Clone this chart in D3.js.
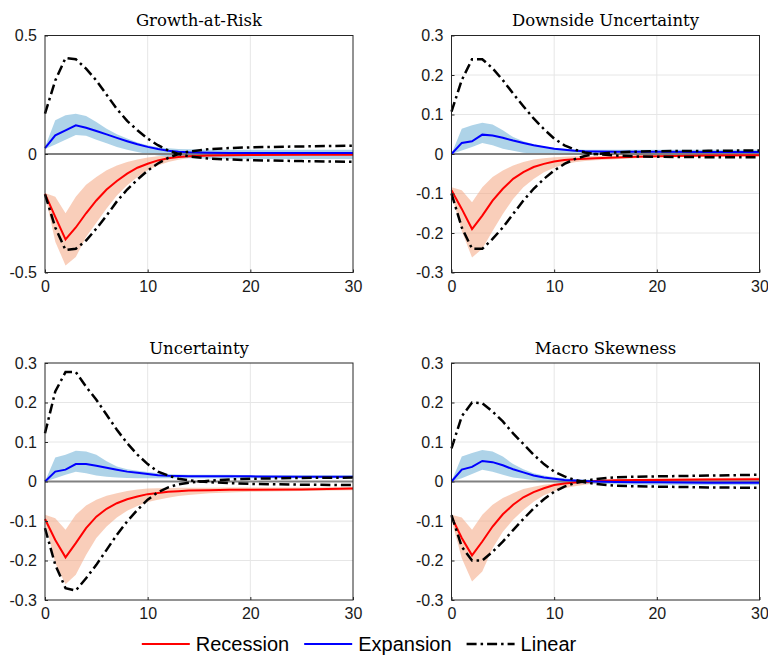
<!DOCTYPE html>
<html>
<head>
<meta charset="utf-8">
<script src="https://cdn.jsdelivr.net/npm/d3@7"></script>
<style>
  body { margin: 0; background: #fff; }
  svg { display: block; }
</style>
</head>
<body>
<div id="chart"></div>
<script>
const width = 768;
const height = 656;

const horizon = [0,1,2,3,4,5,6,7,8,9,10,11,12,13,14,16,18,20,25,30];
const xTicks = [0, 10, 20, 30];
const yTicksWide = [-0.5, 0, 0.5];
const yTicksNarrow = [-0.3, -0.2, -0.1, 0, 0.1, 0.2, 0.3];
const titles = ["Growth-at-Risk", "Downside Uncertainty", "Uncertainty", "Macro Skewness"];
const legendLabels = ["Recession", "Expansion", "Linear"];

// Growth-at-Risk
const garLinUp = [0.17,0.31,0.405,0.40,0.36,0.31,0.25,0.19,0.14,0.10,0.065,0.037,0.015,0.0,-0.01,-0.02,-0.023,-0.026,-0.03,-0.033];
const garLinDn = [-0.17,-0.31,-0.405,-0.40,-0.365,-0.315,-0.26,-0.20,-0.15,-0.108,-0.07,-0.04,-0.016,0.0,0.01,0.021,0.025,0.028,0.032,0.035];
const garRec   = [-0.168,-0.265,-0.36,-0.31,-0.25,-0.196,-0.15,-0.114,-0.083,-0.058,-0.041,-0.027,-0.018,-0.013,-0.009,-0.006,-0.005,-0.004,-0.003,-0.003];
const garRecLo = [-0.17,-0.37,-0.47,-0.435,-0.35,-0.29,-0.23,-0.175,-0.132,-0.097,-0.069,-0.048,-0.034,-0.024,-0.017,-0.01,-0.007,-0.006,-0.005,-0.004];
const garRecHi = [-0.165,-0.18,-0.25,-0.18,-0.13,-0.097,-0.069,-0.048,-0.034,-0.023,-0.015,-0.01,-0.007,-0.005,-0.003,-0.002,-0.001,-0.001,0,0];
const garExp   = [0.025,0.079,0.10,0.121,0.111,0.097,0.083,0.068,0.054,0.041,0.03,0.021,0.014,0.01,0.007,0.005,0.004,0.004,0.004,0.004];
const garExpLo = [0.021,0.04,0.06,0.08,0.077,0.06,0.045,0.03,0.018,0.008,0.0,-0.006,-0.012,-0.016,-0.018,-0.02,-0.021,-0.021,-0.021,-0.021];
const garExpHi = [0.03,0.142,0.163,0.17,0.16,0.135,0.107,0.083,0.065,0.048,0.037,0.029,0.024,0.021,0.02,0.018,0.018,0.018,0.018,0.018];

// Downside Uncertainty
const duLinUp = [0.107,0.187,0.24,0.24,0.217,0.187,0.153,0.121,0.09,0.063,0.039,0.022,0.011,0.004,0.0,-0.004,-0.006,-0.007,-0.008,-0.008];
const duLinDn = [-0.1,-0.186,-0.24,-0.24,-0.215,-0.186,-0.152,-0.118,-0.088,-0.063,-0.042,-0.025,-0.013,-0.005,0.0,0.004,0.006,0.007,0.008,0.009];
const duRec   = [-0.092,-0.139,-0.19,-0.156,-0.118,-0.088,-0.063,-0.046,-0.033,-0.025,-0.019,-0.015,-0.013,-0.012,-0.011,-0.009,-0.007,-0.006,-0.004,-0.003];
const duRecLo = [-0.1,-0.195,-0.262,-0.24,-0.195,-0.152,-0.114,-0.084,-0.063,-0.046,-0.035,-0.026,-0.021,-0.018,-0.016,-0.013,-0.011,-0.009,-0.007,-0.006];
const duRecHi = [-0.084,-0.092,-0.122,-0.084,-0.058,-0.042,-0.029,-0.02,-0.014,-0.011,-0.008,-0.007,-0.006,-0.006,-0.005,-0.004,-0.003,-0.003,-0.002,-0.001];
const duExp   = [0.0,0.028,0.032,0.049,0.047,0.041,0.034,0.028,0.022,0.018,0.0135,0.011,0.0085,0.007,0.0065,0.006,0.006,0.006,0.005,0.005];
const duExpLo = [0.0,0.009,0.018,0.028,0.022,0.0135,0.008,0.003,0.001,0.0,-0.001,-0.001,-0.001,-0.001,-0.001,-0.001,-0.001,-0.001,-0.001,-0.001];
const duExpHi = [0.0,0.064,0.073,0.079,0.075,0.06,0.043,0.032,0.025,0.019,0.016,0.0135,0.012,0.011,0.011,0.011,0.011,0.011,0.011,0.011];

// Uncertainty
const unLinUp = [0.122,0.228,0.277,0.277,0.24,0.207,0.169,0.131,0.097,0.068,0.044,0.025,0.015,0.007,0.003,-0.002,-0.004,-0.006,-0.008,-0.009];
const unLinDn = [-0.118,-0.211,-0.27,-0.276,-0.245,-0.211,-0.173,-0.135,-0.101,-0.072,-0.046,-0.027,-0.015,-0.007,-0.003,0.002,0.005,0.007,0.009,0.01];
const unRec   = [-0.095,-0.148,-0.192,-0.156,-0.118,-0.089,-0.069,-0.055,-0.045,-0.038,-0.032,-0.029,-0.026,-0.0245,-0.023,-0.022,-0.021,-0.021,-0.02,-0.018];
const unRecLo = [-0.1,-0.207,-0.26,-0.236,-0.186,-0.143,-0.114,-0.091,-0.074,-0.062,-0.052,-0.046,-0.041,-0.037,-0.034,-0.03,-0.028,-0.026,-0.024,-0.022];
const unRecHi = [-0.084,-0.093,-0.122,-0.084,-0.061,-0.046,-0.036,-0.03,-0.024,-0.02,-0.018,-0.017,-0.017,-0.016,-0.016,-0.016,-0.015,-0.015,-0.015,-0.014];
const unExp   = [0.0,0.025,0.03,0.044,0.044,0.04,0.035,0.03,0.025,0.022,0.019,0.016,0.0145,0.014,0.0135,0.013,0.013,0.013,0.012,0.012];
const unExpLo = [0.0,0.008,0.017,0.025,0.021,0.015,0.012,0.01,0.009,0.0085,0.008,0.008,0.008,0.008,0.008,0.008,0.008,0.008,0.008,0.008];
const unExpHi = [0.0,0.061,0.068,0.078,0.076,0.068,0.051,0.038,0.031,0.027,0.024,0.021,0.019,0.018,0.017,0.017,0.017,0.016,0.016,0.016];

// Macro Skewness
const msLinUp = [0.084,0.165,0.2,0.198,0.177,0.152,0.122,0.095,0.068,0.044,0.025,0.013,0.004,-0.002,-0.006,-0.011,-0.012,-0.013,-0.015,-0.016];
const msLinDn = [-0.085,-0.165,-0.2,-0.2,-0.178,-0.152,-0.123,-0.095,-0.068,-0.045,-0.026,-0.013,-0.004,0.002,0.006,0.011,0.012,0.013,0.015,0.017];
const msRec   = [-0.09,-0.143,-0.187,-0.152,-0.114,-0.083,-0.059,-0.04,-0.027,-0.017,-0.009,-0.005,-0.0025,-0.001,0.001,0.003,0.004,0.004,0.005,0.006];
const msRecLo = [-0.097,-0.194,-0.253,-0.228,-0.169,-0.127,-0.097,-0.072,-0.051,-0.035,-0.024,-0.017,-0.012,-0.008,-0.005,-0.002,-0.001,0.0,0.001,0.002];
const msRecHi = [-0.084,-0.091,-0.122,-0.084,-0.059,-0.042,-0.03,-0.019,-0.013,-0.008,-0.005,-0.002,0.0,0.002,0.004,0.006,0.007,0.008,0.009,0.01];
const msExp   = [0.0,0.03,0.037,0.052,0.049,0.041,0.031,0.023,0.015,0.01,0.007,0.004,0.0025,0.001,0.0,-0.001,-0.002,-0.002,-0.003,-0.003];
const msExpLo = [0.0,0.008,0.019,0.03,0.025,0.017,0.01,0.007,0.003,0.0,-0.002,-0.004,-0.005,-0.006,-0.006,-0.007,-0.008,-0.008,-0.009,-0.009];
const msExpHi = [0.0,0.063,0.072,0.08,0.076,0.063,0.044,0.031,0.021,0.015,0.011,0.008,0.006,0.005,0.004,0.003,0.003,0.003,0.003,0.003];

const panels = [
  { title: titles[0], yTicks: yTicksWide,   linUp: garLinUp, linDn: garLinDn, rec: garRec, recLo: garRecLo, recHi: garRecHi, exp: garExp, expLo: garExpLo, expHi: garExpHi },
  { title: titles[1], yTicks: yTicksNarrow, linUp: duLinUp,  linDn: duLinDn,  rec: duRec,  recLo: duRecLo,  recHi: duRecHi,  exp: duExp,  expLo: duExpLo,  expHi: duExpHi },
  { title: titles[2], yTicks: yTicksNarrow, linUp: unLinUp,  linDn: unLinDn,  rec: unRec,  recLo: unRecLo,  recHi: unRecHi,  exp: unExp,  expLo: unExpLo,  expHi: unExpHi },
  { title: titles[3], yTicks: yTicksNarrow, linUp: msLinUp,  linDn: msLinDn,  rec: msRec,  recLo: msRecLo,  recHi: msRecHi,  exp: msExp,  expLo: msExpLo,  expHi: msExpHi }
];

const plotW = 308, plotH = 237;
const colX = [45, 451.5];
const rowY = [35.5, 363];

const RED = "#ff0000", BLUE = "#0000ff";
const dashDot = "10,4,2.5,4";
const sans = "'Liberation Sans', Arial, Helvetica, sans-serif";

const svg = d3.select("#chart").append("svg")
  .attr("width", width)
  .attr("height", height);

const x = d3.scaleLinear().domain([0, 30]).range([0, plotW]);

panels.forEach((p, i) => {
  const g = svg.append("g")
    .attr("transform", `translate(${colX[i % 2]},${rowY[Math.floor(i / 2)]})`);

  const ext = d3.max(p.yTicks);
  const y = d3.scaleLinear().domain([-ext, ext]).range([plotH, 0]);

  // grid
  g.append("g")
    .selectAll("line")
    .data(xTicks.slice(1, -1))
    .join("line")
    .attr("x1", d => x(d)).attr("x2", d => x(d))
    .attr("y1", 0).attr("y2", plotH)
    .attr("stroke", "#e6e6e6").attr("stroke-width", 1);
  g.append("g")
    .selectAll("line")
    .data(p.yTicks.slice(1, -1))
    .join("line")
    .attr("x1", 0).attr("x2", plotW)
    .attr("y1", d => y(d)).attr("y2", d => y(d))
    .attr("stroke", "#e6e6e6").attr("stroke-width", 1);

  const band = (lo, hi) => d3.area()
    .x((d, j) => x(horizon[j]))
    .y0((d, j) => y(lo[j]))
    .y1((d, j) => y(hi[j]));

  const line = vals => d3.line()
    .x((d, j) => x(horizon[j]))
    .y((d, j) => y(vals[j]));

  g.append("path").attr("d", band(p.recLo, p.recHi)(horizon))
    .attr("fill", "#f4a582").attr("fill-opacity", 0.55);
  g.append("path").attr("d", band(p.expLo, p.expHi)(horizon))
    .attr("fill", "#6baed6").attr("fill-opacity", 0.55);

  // zero line
  g.append("line")
    .attr("x1", 0).attr("x2", plotW)
    .attr("y1", y(0)).attr("y2", y(0))
    .attr("stroke", "#808080").attr("stroke-width", 2);

  g.append("path").attr("d", line(p.rec)(horizon))
    .attr("fill", "none").attr("stroke", RED).attr("stroke-width", 2);
  g.append("path").attr("d", line(p.exp)(horizon))
    .attr("fill", "none").attr("stroke", BLUE).attr("stroke-width", 2);

  [p.linUp, p.linDn].forEach(vals => {
    g.append("path").attr("d", line(vals)(horizon))
      .attr("fill", "none").attr("stroke", "#000").attr("stroke-width", 2.5)
      .attr("stroke-dasharray", dashDot);
  });

  // box
  g.append("rect")
    .attr("width", plotW).attr("height", plotH)
    .attr("fill", "none").attr("stroke", "#262626").attr("stroke-width", 1);

  // axes
  const xAxis = g.append("g")
    .attr("transform", `translate(0,${plotH})`)
    .call(d3.axisBottom(x).tickValues(xTicks).tickSize(-3).tickPadding(8).tickFormat(d => String(d)));
  const yAxis = g.append("g")
    .call(d3.axisLeft(y).tickValues(p.yTicks).tickSize(-3).tickPadding(8).tickFormat(d => String(d)));
  [xAxis, yAxis].forEach(a => {
    a.select(".domain").remove();
    a.selectAll(".tick line").attr("stroke", "#262626");
    a.selectAll("text")
      .attr("font-family", sans)
      .attr("font-size", 16)
      .attr("fill", "#1a1a1a");
  });

  g.append("text")
    .attr("x", plotW / 2).attr("y", -9.5)
    .attr("text-anchor", "middle")
    .attr("font-family", "'DejaVu Serif', serif")
    .attr("font-size", 16.5)
    .attr("fill", "#000")
    .text(p.title);
});

// Legend
const legend = svg.append("g");
const legendStyles = [
  { color: RED, dash: null, w: 2 },
  { color: BLUE, dash: null, w: 2 },
  { color: "#000", dash: dashDot, w: 2.5 }
];
let cx = 0;
legendLabels.forEach((lab, i) => {
  const it = legend.append("g").attr("transform", `translate(${cx},0)`);
  it.append("line")
    .attr("x1", 0).attr("x2", 48).attr("y1", 0).attr("y2", 0)
    .attr("stroke", legendStyles[i].color)
    .attr("stroke-width", legendStyles[i].w)
    .attr("stroke-dasharray", legendStyles[i].dash);
  const t = it.append("text")
    .attr("x", 54).attr("y", 7)
    .attr("font-family", sans)
    .attr("font-size", 20)
    .attr("fill", "#000")
    .text(lab);
  cx += 54 + t.node().getComputedTextLength() + 15;
});
const total = cx - 15;
legend.attr("transform", `translate(${359 - total / 2},644)`);
</script>
</body>
</html>
